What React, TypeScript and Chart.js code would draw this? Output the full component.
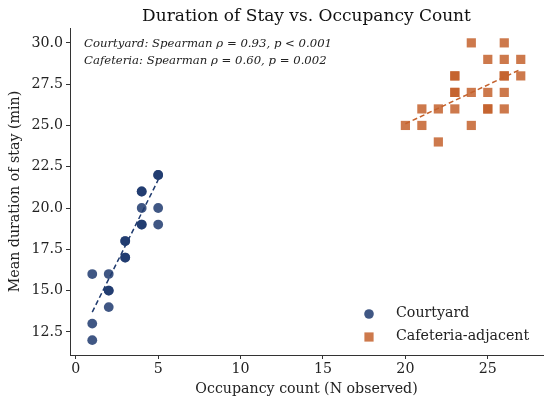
import { useEffect, useRef } from "react";
import { Chart, registerables } from "chart.js";

Chart.register(...registerables);

// Courtyard observations (occupancy count, mean stay in minutes)
const courtyardX = [1, 1, 1, 2, 2, 2, 2, 3, 3, 3, 3, 4, 4, 4, 4, 4, 5, 5, 5, 5];
const courtyardY = [16, 13, 12, 16, 15, 15, 14, 18, 18, 17, 17, 21, 21, 20, 19, 19, 22, 22, 20, 19];

// Cafeteria-adjacent observations
const cafeteriaX = [24, 26, 25, 26, 27, 23, 23, 26, 26, 27, 23, 23, 24, 25, 26, 21, 22, 23, 25, 25, 26, 20, 21, 24, 22];
const cafeteriaY = [30, 30, 29, 29, 29, 28, 28, 28, 28, 28, 27, 27, 27, 27, 27, 26, 26, 26, 26, 26, 26, 25, 25, 25, 24];

// dashed trend lines (end points)
const courtyardFitX = [1, 5];
const courtyardFitY = [13.7, 21.7];
const cafeteriaFitX = [20, 27];
const cafeteriaFitY = [25.1, 28.4];

const xTicks = [0, 5, 10, 15, 20, 25];
const yTicks = [12.5, 15, 17.5, 20, 22.5, 25, 27.5, 30];

const annotations = [
  "Courtyard: Spearman \u03c1 = 0.93, p < 0.001",
  "Cafeteria: Spearman \u03c1 = 0.60, p = 0.002",
];

const NAVY = "rgba(31, 58, 110, 0.85)";
const NAVY_LINE = "#1f3a6e";
const ORANGE = "rgba(196, 98, 45, 0.85)";
const ORANGE_LINE = "#c4622d";
const FONT = "'DejaVu Serif', serif";

const pts = (xs: number[], ys: number[]) => xs.map((x, i) => ({ x, y: ys[i] }));

const overlayPlugin = {
  id: "overlay",
  afterDraw(chart: any) {
    const { ctx, chartArea } = chart;
    ctx.save();
    // title centred over the axes
    ctx.fillStyle = "#111";
    ctx.font = `17px ${FONT}`;
    ctx.textAlign = "center";
    ctx.textBaseline = "middle";
    ctx.fillText("Duration of Stay vs. Occupancy Count", (chartArea.left + chartArea.right) / 2, 17);

    // stats annotation
    ctx.font = `italic 11.7px ${FONT}`;
    ctx.textAlign = "left";
    ctx.fillStyle = "#222";
    annotations.forEach((t, i) => ctx.fillText(t, chartArea.left + 14, 44 + i * 17));

    // legend, lower right
    const lx = 369;
    ctx.font = `14.2px ${FONT}`;
    ctx.fillStyle = NAVY;
    ctx.beginPath();
    ctx.arc(lx, 314, 4.8, 0, Math.PI * 2);
    ctx.fill();
    ctx.fillStyle = ORANGE;
    ctx.fillRect(lx - 4.6, 337 - 4.6, 9.2, 9.2);
    ctx.fillStyle = "#222";
    ctx.fillText("Courtyard", 396, 313);
    ctx.fillText("Cafeteria-adjacent", 396, 336);
    ctx.restore();
  },
};

export default function App() {
  const canvasRef = useRef<HTMLCanvasElement>(null);
  const chartRef = useRef<Chart | null>(null);

  useEffect(() => {
    if (!canvasRef.current) return;
    const ctx = canvasRef.current.getContext("2d");
    if (!ctx) return;

    const tickFont = { family: FONT, size: 14.2 };

    chartRef.current = new Chart(ctx, {
      type: "scatter",
      data: {
        datasets: [
          {
            label: "Courtyard trend",
            type: "line",
            data: pts(courtyardFitX, courtyardFitY),
            borderColor: NAVY_LINE,
            borderWidth: 1.5,
            borderDash: [5, 3],
            pointRadius: 0,
            fill: false,
            order: 0,
          },
          {
            label: "Cafeteria trend",
            type: "line",
            data: pts(cafeteriaFitX, cafeteriaFitY),
            borderColor: ORANGE_LINE,
            borderWidth: 1.5,
            borderDash: [5, 3],
            pointRadius: 0,
            fill: false,
            order: 0,
          },
          {
            label: "Courtyard",
            data: pts(courtyardX, courtyardY),
            backgroundColor: NAVY,
            borderWidth: 0,
            pointStyle: "circle",
            pointRadius: 4.9,
            order: 1,
          },
          {
            label: "Cafeteria-adjacent",
            data: pts(cafeteriaX, cafeteriaY),
            backgroundColor: ORANGE,
            borderWidth: 0,
            pointStyle: "rect",
            pointRadius: 6.5,
            order: 1,
          },
        ],
      },
      options: {
        animation: false,
        responsive: true,
        maintainAspectRatio: false,
        layout: { padding: { top: 28, right: 7, left: 0, bottom: 0 } },
        plugins: {
          legend: { display: false },
          tooltip: { enabled: false },
          title: { display: false },
        },
        scales: {
          x: {
            type: "linear",
            min: -0.35,
            max: 28.35,
            afterBuildTicks: (axis: any) => {
              axis.ticks = xTicks.map((v) => ({ value: v }));
            },
            afterFit: (scale: any) => {
              scale.height = 49;
            },
            ticks: { font: tickFont, color: "#222", padding: 2 },
            grid: { drawOnChartArea: false, drawTicks: true, tickLength: 4, color: "#333" },
            border: { display: true, color: "#333", width: 1 },
            title: {
              display: true,
              text: "Occupancy count (N observed)",
              font: { family: FONT, size: 14.2 },
              color: "#222",
              padding: { top: 0, bottom: 6 },
            },
          },
          y: {
            type: "linear",
            min: 11.1,
            max: 30.9,
            afterBuildTicks: (axis: any) => {
              axis.ticks = yTicks.map((v) => ({ value: v }));
            },
            afterFit: (scale: any) => {
              scale.width = 70;
            },
            ticks: {
              font: tickFont,
              color: "#222",
              padding: 3,
              callback: (v: any) => Number(v).toFixed(1),
            },
            grid: { drawOnChartArea: false, drawTicks: true, tickLength: 4, color: "#333" },
            border: { display: true, color: "#333", width: 1 },
            title: {
              display: true,
              text: "Mean duration of stay (min)",
              font: { family: FONT, size: 14.2 },
              color: "#222",
              padding: { top: 7, bottom: 0 },
            },
          },
        },
      },
      plugins: [overlayPlugin],
    } as any);

    return () => {
      if (chartRef.current) {
        chartRef.current.destroy();
        chartRef.current = null;
      }
    };
  }, []);

  return (
    <div style={{ position: "fixed", left: 0, top: 0, width: 550, height: 404, background: "#fff" }}>
      <canvas ref={canvasRef} />
    </div>
  );
}
